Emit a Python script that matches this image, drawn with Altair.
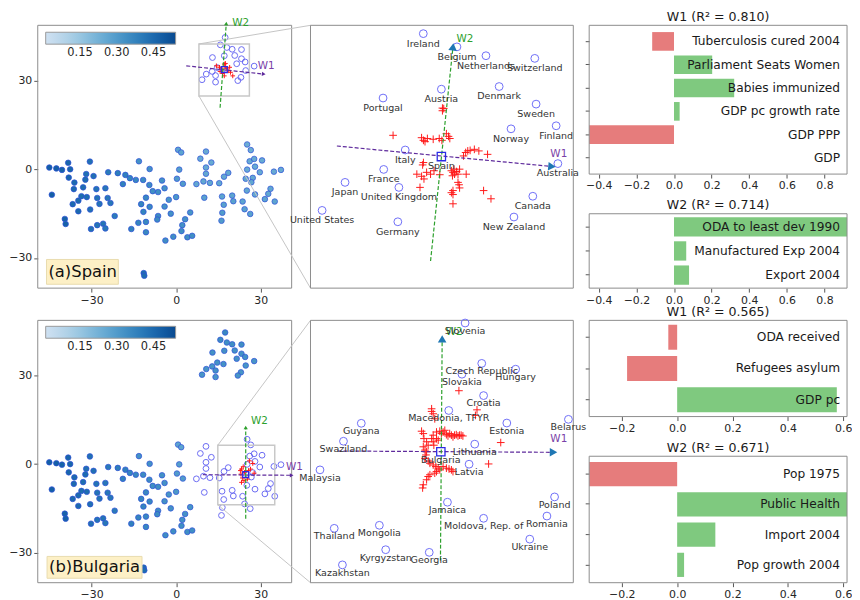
import math
import altair as alt
import pandas as pd

FONT = "DejaVu Sans"

# ---------------- t-SNE embedding shared by both left panels ----------------
g1_x = [-45.0, -42.5, -40.5, -38.3, -37.6, -38.1, -36.1, -36.3, -44.1, -36.7,
        -34.7, -33.6, -31.7, -33.0, -31.9, -32.2, -30.6, -29.3, -28.3, -28.0,
        -27.2, -25.1, -24.3, -23.3, -30.5, -34.7, -24.1, -21.8, -39.5, -39.2,
        -30.2, -28.0, -25.9, -25.1, -20.7, -18.9, -18.0, -16.4, -14.3, -13.2,
        -11.7, -9.4, -9.5, -8.3, -6.4, -5.0, -4.1, -10.7, -12.4, -9.4,
        -11.6, -4.1, -6.4, -6.7, -10.7, -13.4, -15.9, -10.7, -3.8, -11.5,
        -11.3, 0.7, 1.8, 1.1, 0.3, 2.4, -2.6, 0.0, -1.9, 5.0,
        3.2, 2.2, 1.9, 4.0, 5.7, -1.0]
g1_y = [0.6, 0.3, -0.2, 2.2, 0.0, -2.8, -4.5, -6.7, -8.6, -11.8,
        -10.6, -9.1, -9.4, -6.1, -1.6, -3.5, 2.6, -2.3, -6.7, -9.7,
        -11.7, -6.4, -9.7, -11.4, -13.6, -14.2, -1.0, -15.8, -16.8, -18.5,
        -20.2, -18.9, -18.4, -20.0, -1.3, -5.0, -1.9, -3.0, -3.6, 2.7,
        -3.6, 0.1, -5.3, -7.4, -7.7, -3.8, -6.4, -9.6, -11.8, -12.7,
        -14.4, -12.6, -15.8, -17.0, -17.8, -18.1, -20.2, -21.3, -24.1, -35.1,
        -36.0, 6.6, 5.7, -0.1, -3.2, -4.9, -10.3, -9.4, -15.0, -14.6,
        -16.9, -18.9, -20.9, -23.0, -22.5, -22.8]
g1_val = [0.48, 0.48, 0.47, 0.46, 0.46, 0.46, 0.45, 0.45, 0.48, 0.45,
          0.45, 0.44, 0.44, 0.44, 0.43, 0.44, 0.43, 0.43, 0.42, 0.42,
          0.42, 0.41, 0.41, 0.41, 0.43, 0.45, 0.40, 0.40, 0.47, 0.47,
          0.43, 0.42, 0.42, 0.41, 0.39, 0.38, 0.38, 0.37, 0.36, 0.33,
          0.35, 0.33, 0.35, 0.34, 0.34, 0.33, 0.33, 0.36, 0.37, 0.36,
          0.37, 0.33, 0.35, 0.35, 0.36, 0.37, 0.38, 0.36, 0.34, 0.44,
          0.44, 0.27, 0.27, 0.29, 0.30, 0.30, 0.32, 0.31, 0.33, 0.32,
          0.33, 0.33, 0.34, 0.34, 0.34, 0.34]
g2_x = [10.6, 8.6, 12.5, 10.6, 10.6, 7.2, 9.7, 12.0, 15.3, 17.0,
        18.5, 10.0, 16.3, 19.9, 20.3, 16.9, 16.4, 16.1, 23.6, 24.3,
        26.3, 25.1, 28.0, 25.2, 26.5, 26.1, 27.7, 30.5, 28.0, 29.7,
        25.2, 24.7, 27.2, 26.7, 34.7, 37.2, 33.5, 32.7, 31.5, 35.0]
g2_y = [6.0, 3.6, 2.3, 0.6, -1.5, -5.0, -4.1, -4.6, -4.7, -2.5,
        -1.2, -9.6, -9.2, -8.9, -10.8, -12.0, -14.7, -17.4, -10.9, -13.5,
        -15.1, -7.2, -8.5, 8.4, 6.5, 2.7, 3.5, 3.0, 0.9, -1.0,
        -0.1, -3.2, -2.9, -4.4, -0.8, -0.2, -6.6, -8.3, -10.1, -10.9]
g2_val = [0.25, 0.25, 0.25, 0.25, 0.26, 0.26, 0.26, 0.26, 0.26, 0.26,
          0.26, 0.28, 0.27, 0.27, 0.28, 0.28, 0.30, 0.30, 0.27, 0.28,
          0.28, 0.26, 0.26, 0.24, 0.24, 0.25, 0.25, 0.25, 0.25, 0.25,
          0.25, 0.26, 0.26, 0.26, 0.25, 0.25, 0.26, 0.26, 0.27, 0.27]
g3_x = [17.4, 15.7, 18.0, 19.9, 23.2, 12.9, 17.1, 20.8, 23.2, 24.5, 21.5,
        27.7, 14.6, 16.8, 12.8, 10.7, 9.2, 14.0, 14.0, 24.7, 23.0, 21.9]
g3_y = [44.6, 42.1, 41.2, 40.6, 40.5, 37.8, 38.4, 38.5, 37.4, 36.3, 35.7,
        34.9, 34.4, 33.9, 33.1, 32.2, 30.3, 31.7, 29.5, 33.4, 31.1, 30.0]
g3_val = [0.36, 0.35, 0.34, 0.34, 0.34, 0.33, 0.33, 0.33, 0.33, 0.33, 0.33,
          0.32, 0.33, 0.33, 0.32, 0.32, 0.32, 0.33, 0.32, 0.32, 0.32, 0.32]

a_cx = [14.3, 15.4, 16.3, 17.8, 18.5, 19.3, 20.1, 16.5, 17.4, 17.1, 17.1, 15.6, 19.0, 17.5]
a_cy = [35.0, 34.5, 33.9, 34.2, 33.3, 32.8, 31.6, 32.4, 34.7, 35.6, 31.6, 33.1, 34.5, 35.8]
b_cx = [23.2, 23.8, 23.0, 23.5, 24.1, 23.2, 25.7, 26.4, 25.3, 24.3, 27.2, 26.0, 27.7, 22.8]
b_cy = [-1.7, -0.9, -3.4, -4.7, -5.6, -6.2, -2.2, -1.7, -5.1, -2.8, 0.2, 1.1, -3.1, -2.2]
a_inst = (17.1, 33.7)
b_inst = (24.7, -3.6)
a_w1 = (3.6, 35.0, 31.1, 32.2)
a_w2 = (15.6, 20.8, 17.8, 49.3)
b_w1 = (9.5, -3.6, 41.0, -3.8)
b_w2 = (24.7, -18.5, 24.7, 12.4)
a_w1_lab = (29.0, 35.0)
a_w2_lab = (19.9, 49.6)
b_w1_lab = (39.0, -1.0)
b_w2_lab = (26.6, 14.6)
a_box = (8.1, 26.0, 24.8, 42.4)
b_box = (14.8, 35.0, -13.8, 6.4)
a_tag = ("(a)Spain", -45.3, -34.8, (-46.0, -20.5, -30.5, -38.9))
b_tag = ("(b)Bulgaria", -45.1, -35.0, (-45.8, -12.1, -31.3, -38.7))

# ---------------- zoomed neighbourhoods (middle panels) ----------------
ma_names = ["Ireland", "Belgium", "Netherlands", "Switzerland", "Austria", "Denmark",
            "Portugal", "Sweden", "Finland", "Norway", "Italy", "Australia", "France",
            "Japan", "United Kingdom", "United States", "Germany", "Canada", "New Zealand"]
ma_x = [42.75, 55.5, 66.5, 85.0, 49.6, 71.5, 27.5, 85.5, 93.1, 76.0, 35.9, 93.75,
        27.75, 13.1, 33.5, 4.4, 33.1, 84.25, 77.1]
ma_y = [96.25, 91.25, 87.9, 86.9, 75.25, 76.25, 71.9, 69.6, 61.4, 60.25, 52.25, 47.1,
        44.9, 40.0, 38.1, 29.4, 25.1, 34.75, 26.9]
ma_inst = ("Spain", 49.6, 49.75)
ma_cx = [50.0, 50.0, 50.5, 31.3, 42.1, 42.8, 43.4, 44.3, 46.5, 48.8, 49.8, 51.5, 52.3,
         52.8, 58.0, 58.8, 59.6, 60.5, 62.1, 63.8, 67.1, 42.8, 42.5, 40.3, 42.1, 43.0,
         44.0, 45.5, 46.8, 49.0, 53.4, 54.0, 54.6, 55.3, 54.4, 53.8, 55.9, 56.5, 59.0,
         41.5, 55.9, 56.3, 56.5, 54.0, 53.4, 54.0, 54.0, 65.6, 68.4]
ma_cy = [68.1, 67.1, 67.9, 57.8, 56.9, 55.9, 55.4, 56.6, 56.3, 56.6, 55.9, 58.4, 57.4,
         56.6, 50.0, 51.3, 51.9, 52.1, 52.5, 51.9, 50.6, 47.5, 46.6, 43.1, 42.3, 41.3,
         43.8, 43.1, 44.4, 42.9, 44.4, 43.8, 43.1, 44.1, 45.0, 42.5, 43.1, 45.0, 43.1,
         38.1, 40.0, 39.1, 37.9, 36.9, 36.1, 35.4, 31.9, 36.9, 33.8]
ma_w1 = (10.0, 53.75, 91.5, 46.0)
ma_w2 = (45.5, 10.25, 54.0, 91.25)
ma_w1_lab = (90.9, 50.6)
ma_w2_lab = (55.3, 94.4)

mb_names = ["Slovenia", "Czech Republic", "Hungary", "Slovakia", "Croatia",
            "Macedonia, TFYR", "Guyana", "Estonia", "Belarus", "Swaziland", "Lithuania",
            "Latvia", "Malaysia", "Jamaica", "Poland", "Moldova, Rep. of", "Romania",
            "Thailand", "Mongolia", "Ukraine", "Kyrgyzstan", "Georgia", "Kazakhstan"]
mb_x = [58.6, 64.9, 77.75, 57.4, 65.6, 52.4, 19.25, 74.4, 97.75, 12.5, 62.25, 60.1,
        3.6, 51.9, 92.5, 65.6, 89.6, 9.0, 26.1, 83.1, 28.5, 45.0, 12.1]
mb_y = [98.4, 83.1, 80.9, 79.0, 70.9, 65.25, 60.4, 60.5, 61.9, 53.6, 52.5, 44.9,
        42.75, 30.5, 32.5, 24.4, 25.25, 20.6, 21.75, 16.5, 12.5, 11.5, 6.75]
mb_inst = ("Bulgaria", 49.4, 49.6)
mb_cx = [56.25, 45.9, 45.9, 46.5, 47.1, 63.1, 62.5, 72.1, 67.5, 42.1, 42.75, 43.0, 44.0,
         44.6, 42.75, 43.4, 44.0, 43.75, 43.4, 44.6, 45.25, 46.5, 47.5, 48.4, 49.0, 50.25,
         51.5, 52.5, 53.4, 54.0, 47.75, 47.1, 45.25, 44.6, 44.0, 42.75, 42.5, 46.5, 47.75,
         49.0, 49.6, 50.25, 50.9, 51.5, 52.1, 52.75, 53.4, 54.0, 54.6, 55.25, 55.9, 56.5,
         57.1, 57.75, 47.75, 48.4, 45.9, 46.5, 46.75]
mb_cy = [72.75, 65.9, 64.9, 64.0, 62.1, 65.5, 63.4, 53.1, 45.0, 57.4, 56.5, 54.6, 53.4,
         52.1, 51.5, 50.25, 49.6, 48.4, 47.1, 46.1, 45.25, 44.6, 44.0, 43.4, 42.75, 44.0,
         43.4, 43.1, 42.75, 42.1, 42.1, 41.5, 40.9, 40.25, 39.0, 37.1, 35.9, 55.9, 57.1,
         57.4, 56.5, 57.1, 57.75, 56.1, 55.6, 56.5, 55.9, 55.25, 55.9, 56.1, 55.6, 55.9,
         55.9, 55.6, 54.6, 54.0, 54.6, 53.4, 52.1]
mb_w1 = (10.25, 49.9, 92.1, 49.4)
mb_w2 = (49.25, 8.4, 49.9, 92.4)
mb_w1_lab = (90.9, 54.6)
mb_w2_lab = (51.25, 94.9)

# ---------------- explanation weights (right panels) ----------------
ra1_title = "W1 (R² = 0.810)"
ra1_cats = ["Tuberculosis cured 2004", "Parliament Seats Women", "Babies immunized",
            "GDP pc growth rate", "GDP PPP", "GDP"]
ra1_vals = [-0.116, 0.203, 0.32, 0.03, -0.47, 0.0]
ra2_title = "W2 (R² = 0.714)"
ra2_cats = ["ODA to least dev 1990", "Manufactured Exp 2004", "Export 2004"]
ra2_vals = [0.95, 0.065, 0.08]
rb1_title = "W1 (R² = 0.565)"
rb1_cats = ["ODA received", "Refugees asylum", "GDP pc"]
rb1_vals = [-0.032, -0.181, 0.577]
rb2_title = "W2 (R² = 0.671)"
rb2_cats = ["Pop 1975", "Public Health", "Import 2004", "Pop growth 2004"]
rb2_vals = [-0.33, 0.70, 0.138, 0.025]

# ---------------- layout (pixel ranges inside one plot area) / style ----------------
W, H = 816, 562
XL = (0, 256)
XM = (275, 540)
XR = (556, 816)
YT = (0, 265)
YB = (297.5, 562)
YR1, YR2, YR3, YR4 = (0, 150), (190, 265), (297.5, 394.5), (434.5, 562)
XD = [-49.1, 41.0]
YD = [-40.2, 48.7]
UD = [0, 99.6]
VD = [0, 99.4]
DA = [-0.451, 0.92]
DB = [-0.318, 0.614]
TA = [-0.4, -0.2, 0.0, 0.2, 0.4, 0.6, 0.8]
TB = [-0.2, 0.0, 0.2, 0.4, 0.6]
RED, GREEN = "#e67c7c", "#7fc97f"
PURPLE, WGREEN, HEAD = "#5e2a9c", "#2ca02c", "#1f77b4"
FRAME = "#8c8c8c"
CROSS = "M-1,0H1M0,-1V1"
ONE = pd.DataFrame({"k": [0]})


def head_angle(seg, xr, yr, xd, yd):
    dx = (seg[2] - seg[0]) * (xr[1] - xr[0]) / (xd[1] - xd[0])
    dy = (seg[3] - seg[1]) * (yr[1] - yr[0]) / (yd[1] - yd[0])
    return math.degrees(math.atan2(dx, dy))


def overlay(Xf, Yf, xr, yr, xd, yd, w1, w2, w1lab, w2lab, cx, cy, inst, head_size,
            inst_size, cross_size, lab_size, big):
    lines = pd.DataFrame({"x": [w1[0], w2[0]], "y": [w1[1], w2[1]],
                          "x2": [w1[2], w2[2]], "y2": [w1[3], w2[3]],
                          "c": [PURPLE, WGREEN]})
    heads = pd.DataFrame({"x": [w1[2], w2[2]], "y": [w1[3], w2[3]],
                          "a": [head_angle(w1, xr, yr, xd, yd), head_angle(w2, xr, yr, xd, yd)],
                          "c": [HEAD, HEAD] if big else [PURPLE, WGREEN]})
    labs = pd.DataFrame({"x": [w1lab[0], w2lab[0]], "y": [w1lab[1], w2lab[1]],
                         "t": ["W1", "W2"], "c": ["#7a3fa8", WGREEN]})
    crosses = pd.DataFrame({"x": cx, "y": cy})
    ins = pd.DataFrame({"x": [inst[0]], "y": [inst[1]]})
    return [
        alt.Chart(crosses).mark_point(shape=CROSS, filled=False, size=cross_size,
                                      color="#ff1a1a", strokeWidth=1, opacity=1)
        .encode(x=Xf("x"), y=Yf("y")),
        alt.Chart(lines).mark_rule(strokeDash=[4, 2], strokeWidth=1.2)
        .encode(x=Xf("x"), y=Yf("y"), x2="x2:Q", y2="y2:Q",
                color=alt.Color("c:N", scale=None)),
        alt.Chart(heads).mark_point(shape="triangle-up", filled=True, size=head_size, opacity=1)
        .encode(x=Xf("x"), y=Yf("y"), angle=alt.Angle("a:Q", scale=None),
                color=alt.Color("c:N", scale=None)),
        alt.Chart(ins).mark_point(shape="square", filled=False, size=inst_size,
                                  color="#2a2ae6", strokeWidth=1.3, opacity=1)
        .encode(x=Xf("x"), y=Yf("y")),
        alt.Chart(labs).mark_text(align="left", baseline="middle", fontSize=lab_size)
        .encode(x=Xf("x"), y=Yf("y"), text="t:N", color=alt.Color("c:N", scale=None)),
    ]


def frame_layer(Xf, Yf, xd, yd):
    fr = pd.DataFrame({"x": [xd[0]], "x2": [xd[1]], "y": [yd[0]], "y2": [yd[1]]})
    return alt.Chart(fr).mark_rect(fillOpacity=0, stroke=FRAME, strokeWidth=1).encode(
        x=Xf("x"), x2="x2:Q", y=Yf("y"), y2="y2:Q")


def left_panel(filled, opened, cx, cy, inst, w1, w2, w1lab, w2lab, box, tag, yr, leg_y):
    xs = alt.Scale(domain=XD, range=list(XL), nice=False, zero=False)
    ys = alt.Scale(domain=YD, range=[yr[1], yr[0]], nice=False, zero=False)
    common = dict(values=[-30, 0, 30], title=None, grid=False, domain=False, tickSize=4,
                  labelFontSize=11, labelFlush=False, labelPadding=2)
    axx = alt.Axis(orient="bottom", offset=-(H - yr[1]), **common)
    axy = alt.Axis(orient="left", offset=0, **common)

    def Xf(f):
        return alt.X(f + ":Q", scale=xs, axis=axx)

    def Yf(f):
        return alt.Y(f + ":Q", scale=ys, axis=axy)

    fdf = pd.DataFrame({"x": sum([p[0] for p in filled], []),
                        "y": sum([p[1] for p in filled], []),
                        "v": sum([p[2] for p in filled], [])})
    odf = pd.DataFrame({"x": opened[0], "y": opened[1]})
    pts_f = alt.Chart(fdf).mark_circle(size=32, stroke="#2f4fd8", strokeWidth=0.7,
                                       opacity=1).encode(
        x=Xf("x"), y=Yf("y"),
        fill=alt.Fill("v:Q", scale=alt.Scale(scheme="blues", domain=[0.01, 0.54]),
                      legend=alt.Legend(orient="none", legendX=8, legendY=leg_y,
                                        direction="horizontal", gradientLength=131,
                                        gradientThickness=12, title=None,
                                        values=[0.15, 0.30, 0.45], format=".2f",
                                        labelFontSize=11.5, gradientStrokeColor="#999",
                                        gradientStrokeWidth=1, labelOffset=3)))
    pts_o = alt.Chart(odf).mark_point(shape="circle", filled=False, size=34,
                                      color="#5c5cf2", strokeWidth=1, opacity=0.9).encode(
        x=Xf("x"), y=Yf("y"))
    bx = pd.DataFrame({"x": [box[0]], "x2": [box[1]], "y": [box[2]], "y2": [box[3]]})
    box_l = alt.Chart(bx).mark_rect(fillOpacity=0, stroke="#c8c8c8", strokeWidth=1.5).encode(
        x=Xf("x"), x2="x2:Q", y=Yf("y"), y2="y2:Q")
    # zoom connectors from the box to the left corners of the middle panel
    xm = XD[1] + (XM[0] - XL[1]) * (XD[1] - XD[0]) / (XL[1] - XL[0])
    con = pd.DataFrame({"x": [box[0], box[0]], "y": [box[3], box[2]],
                        "x2": [xm, xm], "y2": [YD[1], YD[0]]})
    con_l = alt.Chart(con).mark_rule(color="#c4c4c4", strokeWidth=1).encode(
        x=Xf("x"), y=Yf("y"), x2="x2:Q", y2="y2:Q")
    text, tx, ty, tb = tag
    tbdf = pd.DataFrame({"x": [tb[0]], "x2": [tb[1]], "y": [tb[2]], "y2": [tb[3]]})
    tag_box = alt.Chart(tbdf).mark_rect(fill="#fdf0c6", stroke="#e9dcae", strokeWidth=1).encode(
        x=Xf("x"), x2="x2:Q", y=Yf("y"), y2="y2:Q")
    tag_txt = alt.Chart(pd.DataFrame({"x": [tx], "y": [ty], "t": [text]})).mark_text(
        align="left", baseline="middle", fontSize=16.5, color="#111").encode(
        x=Xf("x"), y=Yf("y"), text="t:N")
    layers = [frame_layer(Xf, Yf, XD, YD), pts_f, pts_o, box_l, con_l] + overlay(
        Xf, Yf, XL, yr, XD, YD, w1, w2, w1lab, w2lab, cx, cy, inst,
        head_size=18, inst_size=36, cross_size=22, lab_size=10.5, big=False) + [tag_box, tag_txt]
    return alt.layer(*layers)


def mid_panel(names, mx, my, inst, cx, cy, w1, w2, w1lab, w2lab, lab_dy, yr):
    us = alt.Scale(domain=UD, range=list(XM), nice=False, zero=False)
    vs = alt.Scale(domain=VD, range=[yr[1], yr[0]], nice=False, zero=False)

    def Xf(f):
        return alt.X(f + ":Q", scale=us, axis=None)

    def Yf(f):
        return alt.Y(f + ":Q", scale=vs, axis=None)

    pts = pd.DataFrame({"x": mx + [inst[1]], "y": my + [inst[2]], "n": names + [inst[0]]})
    circ = alt.Chart(pd.DataFrame({"x": mx, "y": my})).mark_point(
        shape="circle", filled=False, size=62, color="#6e6ef7", strokeWidth=1, opacity=1).encode(
        x=Xf("x"), y=Yf("y"))
    labels = alt.Chart(pts).mark_text(dy=lab_dy, fontSize=9.6, color="#333").encode(
        x=Xf("x"), y=Yf("y"), text="n:N")
    layers = [frame_layer(Xf, Yf, UD, VD), circ] + overlay(
        Xf, Yf, XM, yr, UD, VD, w1, w2, w1lab, w2lab, cx, cy, (inst[1], inst[2]),
        head_size=75, inst_size=70, cross_size=60, lab_size=10.5, big=True) + [labels]
    return alt.layer(*layers)


def bar_panel(title, cats, vals, domain, ticks, yr):
    n = len(cats)
    df = pd.DataFrame({"cat": cats, "v": vals, "zero": [0.0] * n, "lx": [domain[1]] * n})
    xs = alt.Scale(domain=domain, range=list(XR), nice=False, zero=False, clamp=True)
    ys = alt.Scale(domain=cats, range=list(yr), paddingInner=0.2, paddingOuter=0.05 * (n - 0.2))
    X = alt.X("v:Q", scale=xs, axis=alt.Axis(orient="bottom", offset=-(H - yr[1]), values=ticks,
                                              format=".1f", title=None, grid=False, domain=False,
                                              tickSize=4, labelFontSize=11, labelFlush=False,
                                              labelPadding=2))
    Y = alt.Y("cat:N", scale=ys, axis=alt.Axis(orient="left", offset=-XR[0], labels=False,
                                                title=None, ticks=True, tickSize=4,
                                                domain=False, grid=False))
    bars = alt.Chart(df).mark_bar().encode(
        x=X, x2="zero:Q", y=Y,
        color=alt.condition("datum.v < 0", alt.value(RED), alt.value(GREEN)))
    labels = alt.Chart(df).mark_text(align="right", baseline="middle", dx=-7,
                                     fontSize=12.3, color="#1a1a1a").encode(
        x=alt.X("lx:Q", scale=xs), y=Y, text="cat:N")
    fr = pd.DataFrame({"x": [domain[0]], "x2": [domain[1]]})
    frame = alt.Chart(fr).mark_rect(fillOpacity=0, stroke=FRAME, strokeWidth=1).encode(
        x=alt.X("x:Q", scale=xs), x2="x2:Q", y=alt.value(yr[0]), y2=alt.value(yr[1]))
    ttl = alt.Chart(ONE).mark_text(fontSize=12.7, color="#1a1a1a", baseline="middle").encode(
        x=alt.value((XR[0] + XR[1]) / 2), y=alt.value(yr[0] - 8.5), text=alt.value(title))
    return alt.layer(bars, labels, frame, ttl)


left_a = left_panel([(g1_x, g1_y, g1_val), (g2_x, g2_y, g2_val)], (g3_x, g3_y),
                    a_cx, a_cy, a_inst, a_w1, a_w2, a_w1_lab, a_w2_lab, a_box, a_tag, YT, 7)
left_b = left_panel([(g1_x, g1_y, g1_val), (g3_x, g3_y, g3_val)], (g2_x, g2_y),
                    b_cx, b_cy, b_inst, b_w1, b_w2, b_w1_lab, b_w2_lab, b_box, b_tag, YB,
                    YB[0] + 6)
mid_a = mid_panel(ma_names, ma_x, ma_y, ma_inst, ma_cx, ma_cy, ma_w1, ma_w2,
                  ma_w1_lab, ma_w2_lab, 10, YT)
mid_b = mid_panel(mb_names, mb_x, mb_y, mb_inst, mb_cx, mb_cy, mb_w1, mb_w2,
                  mb_w1_lab, mb_w2_lab, 8, YB)
r1 = bar_panel(ra1_title, ra1_cats, ra1_vals, DA, TA, YR1)
r2 = bar_panel(ra2_title, ra2_cats, ra2_vals, DA, TA, YR2)
r3 = bar_panel(rb1_title, rb1_cats, rb1_vals, DB, TB, YR3)
r4 = bar_panel(rb2_title, rb2_cats, rb2_vals, DB, TB, YR4)

chart = alt.layer(left_a, left_b, mid_a, mid_b, r1, r2, r3, r4).resolve_scale(
    x="independent", y="independent", fill="independent"
).properties(
    width=W, height=H, padding={"left": 0, "top": 0, "right": 0, "bottom": 0}
).configure_view(strokeWidth=0).configure_axis(
    labelFont=FONT, labelColor="#262626", tickColor="#555", tickWidth=1
).configure_legend(labelFont=FONT, labelColor="#262626").configure_text(font=FONT)

chart.save("out.html", embed_options={"renderer": "svg", "actions": False})
